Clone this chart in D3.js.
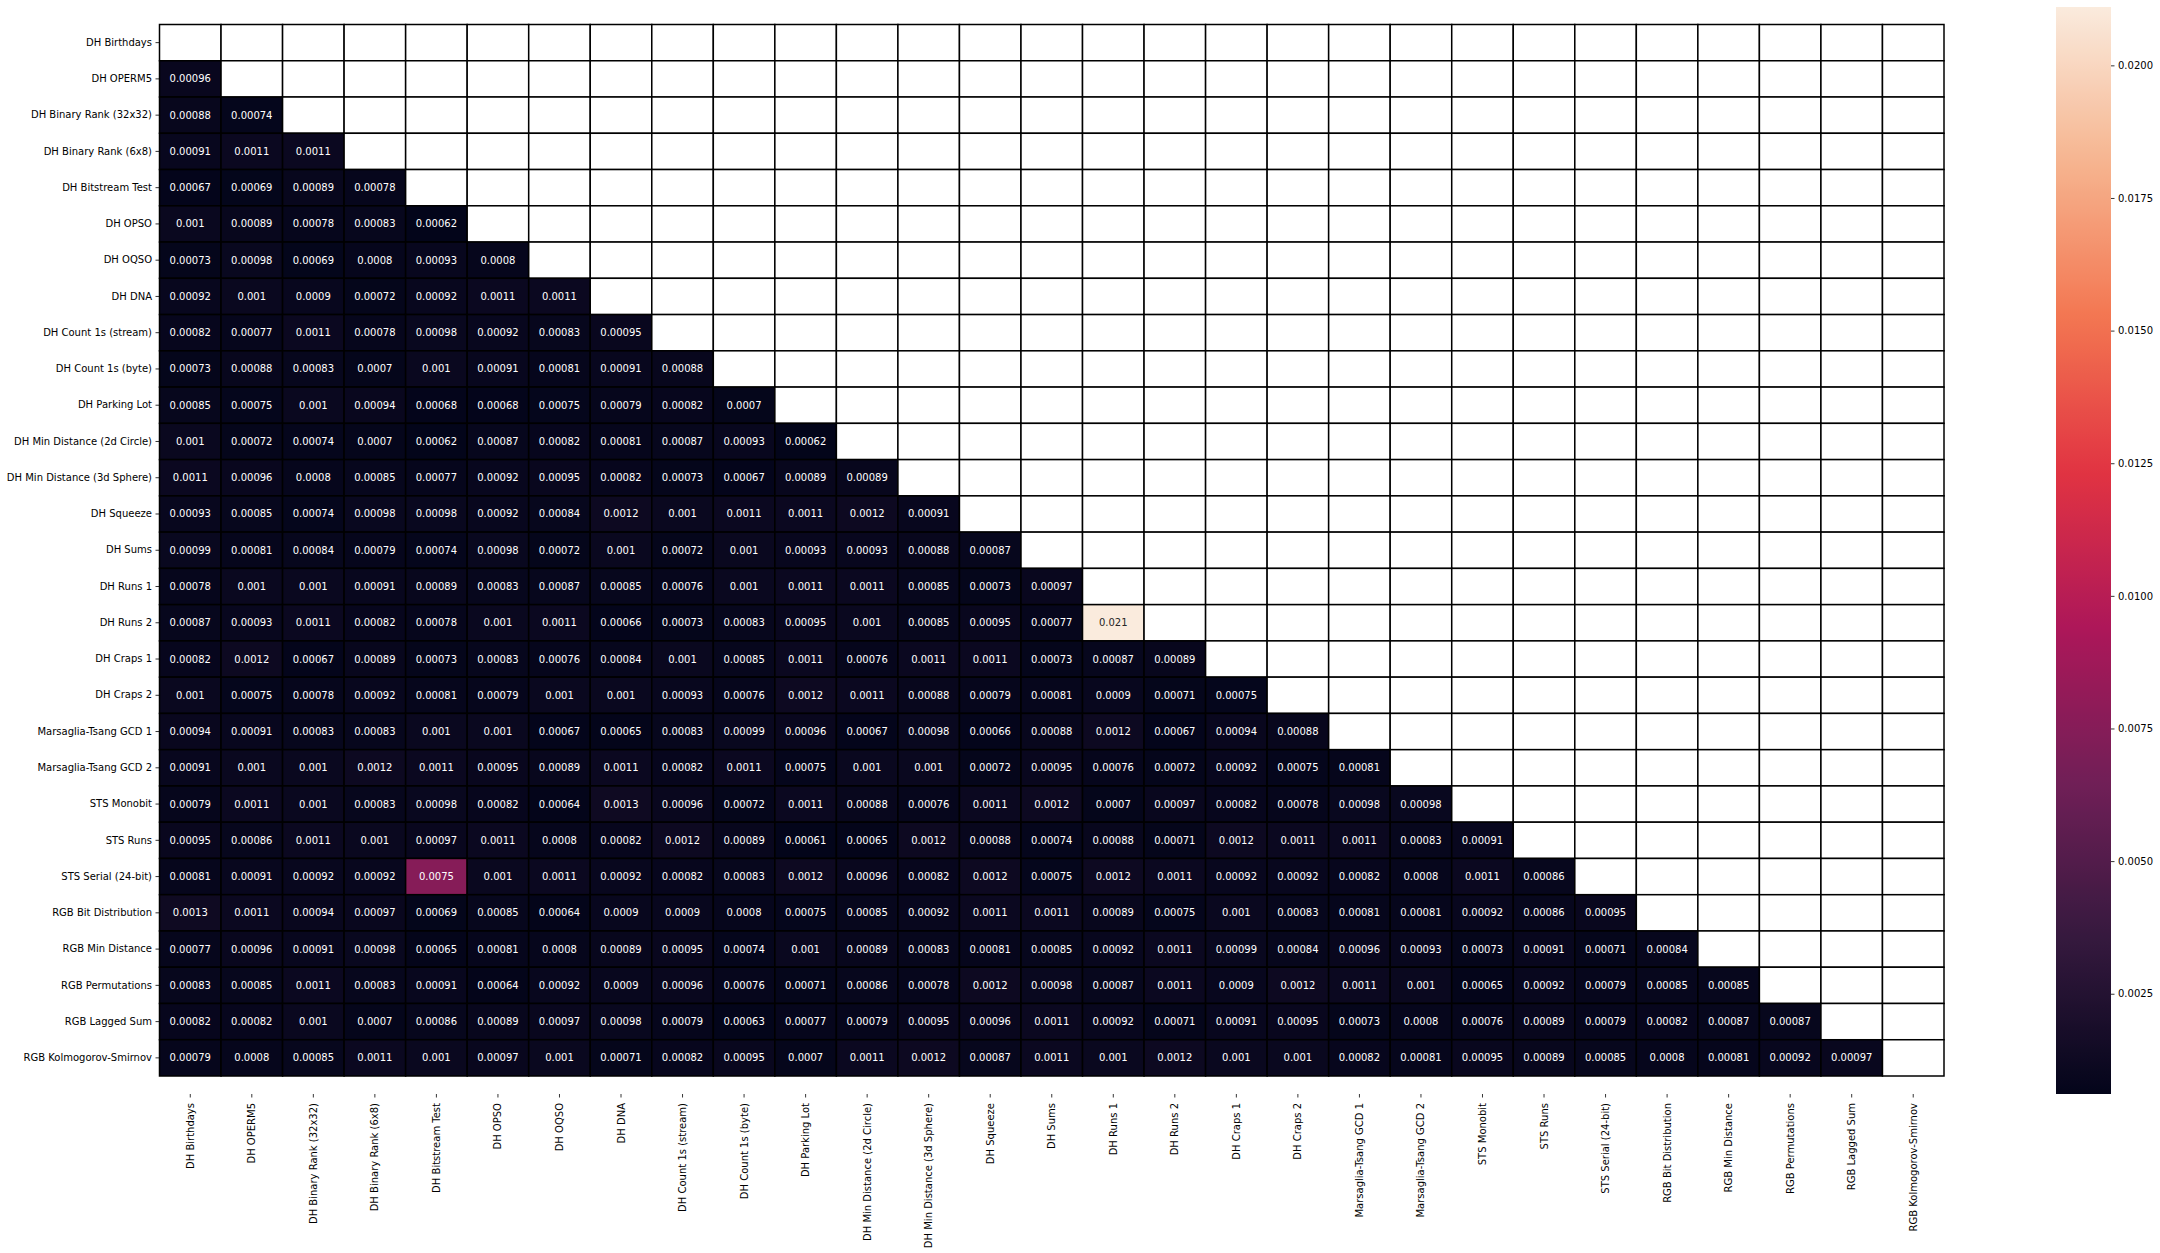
<!DOCTYPE html>
<html>
<head>
<meta charset="utf-8">
<script src="https://cdn.jsdelivr.net/npm/d3@7"></script>
<style>
  html, body { margin: 0; padding: 0; background: #ffffff; }
  svg { display: block; }
  text { font-family: "DejaVu Sans", sans-serif; }
</style>
</head>
<body>
<svg id="chart" width="2160" height="1253"></svg>
<script>
const categories = [
  "DH Birthdays", "DH OPERM5", "DH Binary Rank (32x32)", "DH Binary Rank (6x8)",
  "DH Bitstream Test", "DH OPSO", "DH OQSO", "DH DNA", "DH Count 1s (stream)",
  "DH Count 1s (byte)", "DH Parking Lot", "DH Min Distance (2d Circle)",
  "DH Min Distance (3d Sphere)", "DH Squeeze", "DH Sums", "DH Runs 1", "DH Runs 2",
  "DH Craps 1", "DH Craps 2", "Marsaglia-Tsang GCD 1", "Marsaglia-Tsang GCD 2",
  "STS Monobit", "STS Runs", "STS Serial (24-bit)", "RGB Bit Distribution",
  "RGB Min Distance", "RGB Permutations", "RGB Lagged Sum", "RGB Kolmogorov-Smirnov"
];

// lower-triangular values: row i holds columns 0..i-1
const corrRows = [
  [],
  [0.00096],
  [0.00088, 0.00074],
  [0.00091, 0.0011, 0.0011],
  [0.00067, 0.00069, 0.00089, 0.00078],
  [0.001, 0.00089, 0.00078, 0.00083, 0.00062],
  [0.00073, 0.00098, 0.00069, 0.0008, 0.00093, 0.0008],
  [0.00092, 0.001, 0.0009, 0.00072, 0.00092, 0.0011, 0.0011],
  [0.00082, 0.00077, 0.0011, 0.00078, 0.00098, 0.00092, 0.00083, 0.00095],
  [0.00073, 0.00088, 0.00083, 0.0007, 0.001, 0.00091, 0.00081, 0.00091, 0.00088],
  [0.00085, 0.00075, 0.001, 0.00094, 0.00068, 0.00068, 0.00075, 0.00079, 0.00082, 0.0007],
  [0.001, 0.00072, 0.00074, 0.0007, 0.00062, 0.00087, 0.00082, 0.00081, 0.00087, 0.00093, 0.00062],
  [0.0011, 0.00096, 0.0008, 0.00085, 0.00077, 0.00092, 0.00095, 0.00082, 0.00073, 0.00067, 0.00089, 0.00089],
  [0.00093, 0.00085, 0.00074, 0.00098, 0.00098, 0.00092, 0.00084, 0.0012, 0.001, 0.0011, 0.0011, 0.0012, 0.00091],
  [0.00099, 0.00081, 0.00084, 0.00079, 0.00074, 0.00098, 0.00072, 0.001, 0.00072, 0.001, 0.00093, 0.00093, 0.00088, 0.00087],
  [0.00078, 0.001, 0.001, 0.00091, 0.00089, 0.00083, 0.00087, 0.00085, 0.00076, 0.001, 0.0011, 0.0011, 0.00085, 0.00073, 0.00097],
  [0.00087, 0.00093, 0.0011, 0.00082, 0.00078, 0.001, 0.0011, 0.00066, 0.00073, 0.00083, 0.00095, 0.001, 0.00085, 0.00095, 0.00077, 0.0211],
  [0.00082, 0.0012, 0.00067, 0.00089, 0.00073, 0.00083, 0.00076, 0.00084, 0.001, 0.00085, 0.0011, 0.00076, 0.0011, 0.0011, 0.00073, 0.00087, 0.00089],
  [0.001, 0.00075, 0.00078, 0.00092, 0.00081, 0.00079, 0.001, 0.001, 0.00093, 0.00076, 0.0012, 0.0011, 0.00088, 0.00079, 0.00081, 0.0009, 0.00071, 0.00075],
  [0.00094, 0.00091, 0.00083, 0.00083, 0.001, 0.001, 0.00067, 0.00065, 0.00083, 0.00099, 0.00096, 0.00067, 0.00098, 0.00066, 0.00088, 0.0012, 0.00067, 0.00094, 0.00088],
  [0.00091, 0.001, 0.001, 0.0012, 0.0011, 0.00095, 0.00089, 0.0011, 0.00082, 0.0011, 0.00075, 0.001, 0.001, 0.00072, 0.00095, 0.00076, 0.00072, 0.00092, 0.00075, 0.00081],
  [0.00079, 0.0011, 0.001, 0.00083, 0.00098, 0.00082, 0.00064, 0.0013, 0.00096, 0.00072, 0.0011, 0.00088, 0.00076, 0.0011, 0.0012, 0.0007, 0.00097, 0.00082, 0.00078, 0.00098, 0.00098],
  [0.00095, 0.00086, 0.0011, 0.001, 0.00097, 0.0011, 0.0008, 0.00082, 0.0012, 0.00089, 0.00061, 0.00065, 0.0012, 0.00088, 0.00074, 0.00088, 0.00071, 0.0012, 0.0011, 0.0011, 0.00083, 0.00091],
  [0.00081, 0.00091, 0.00092, 0.00092, 0.0075, 0.001, 0.0011, 0.00092, 0.00082, 0.00083, 0.0012, 0.00096, 0.00082, 0.0012, 0.00075, 0.0012, 0.0011, 0.00092, 0.00092, 0.00082, 0.0008, 0.0011, 0.00086],
  [0.0013, 0.0011, 0.00094, 0.00097, 0.00069, 0.00085, 0.00064, 0.0009, 0.0009, 0.0008, 0.00075, 0.00085, 0.00092, 0.0011, 0.0011, 0.00089, 0.00075, 0.001, 0.00083, 0.00081, 0.00081, 0.00092, 0.00086, 0.00095],
  [0.00077, 0.00096, 0.00091, 0.00098, 0.00065, 0.00081, 0.0008, 0.00089, 0.00095, 0.00074, 0.001, 0.00089, 0.00083, 0.00081, 0.00085, 0.00092, 0.0011, 0.00099, 0.00084, 0.00096, 0.00093, 0.00073, 0.00091, 0.00071, 0.00084],
  [0.00083, 0.00085, 0.0011, 0.00083, 0.00091, 0.00064, 0.00092, 0.0009, 0.00096, 0.00076, 0.00071, 0.00086, 0.00078, 0.0012, 0.00098, 0.00087, 0.0011, 0.0009, 0.0012, 0.0011, 0.001, 0.00065, 0.00092, 0.00079, 0.00085, 0.00085],
  [0.00082, 0.00082, 0.001, 0.0007, 0.00086, 0.00089, 0.00097, 0.00098, 0.00079, 0.00063, 0.00077, 0.00079, 0.00095, 0.00096, 0.0011, 0.00092, 0.00071, 0.00091, 0.00095, 0.00073, 0.0008, 0.00076, 0.00089, 0.00079, 0.00082, 0.00087, 0.00087],
  [0.00079, 0.0008, 0.00085, 0.0011, 0.001, 0.00097, 0.001, 0.00071, 0.00082, 0.00095, 0.0007, 0.0011, 0.0012, 0.00087, 0.0011, 0.001, 0.0012, 0.001, 0.001, 0.00082, 0.00081, 0.00095, 0.00089, 0.00085, 0.0008, 0.00081, 0.00092, 0.00097]
];

const colorbarTicks = [0.0025, 0.0050, 0.0075, 0.0100, 0.0125, 0.0150, 0.0175, 0.0200];

// seaborn "rocket" colormap anchor colours (evenly spaced)
const rocketStops = ["#03051a", "#35193e", "#701f57", "#ad1759", "#e13342", "#f37651", "#f6b48f", "#faebdd"];

const svg = d3.select("#chart");
const rocket = d3.piecewise(d3.interpolateRgb, rocketStops);

const allVals = corrRows.flat();
const [vmin, vmax] = d3.extent(allVals);
const color = d3.scaleSequential(rocket).domain([vmin, vmax]);

const x = d3.scaleBand().domain(categories).range([159.5, 1944]).padding(0);
const y = d3.scaleBand().domain(categories).range([24.5, 1076]).padding(0);

const cells = [];
categories.forEach((rowName, i) => {
  categories.forEach((colName, j) => {
    cells.push({ row: rowName, col: colName, value: j < i ? corrRows[i][j] : null });
  });
});

const g = svg.append("g");
g.selectAll("rect.cell")
  .data(cells)
  .join("rect")
  .attr("class", "cell")
  .attr("x", d => x(d.col))
  .attr("y", d => y(d.row))
  .attr("width", x.bandwidth())
  .attr("height", y.bandwidth())
  .attr("fill", d => d.value === null ? "#ffffff" : color(d.value))
  .attr("stroke", "#000000")
  .attr("stroke-width", 1.5);

const fmt = d3.format(".2~g");
function textColor(v) {
  const c = d3.rgb(color(v));
  const lin = u => { u /= 255; return u <= 0.03928 ? u / 12.92 : Math.pow((u + 0.055) / 1.055, 2.4); };
  const lum = 0.2126 * lin(c.r) + 0.7152 * lin(c.g) + 0.0722 * lin(c.b);
  return lum > 0.408 ? "#262626" : "#ffffff";
}

g.selectAll("text.annot")
  .data(cells.filter(d => d.value !== null))
  .join("text")
  .attr("class", "annot")
  .attr("x", d => x(d.col) + x.bandwidth() / 2)
  .attr("y", d => y(d.row) + y.bandwidth() / 2)
  .attr("text-anchor", "middle")
  .attr("dominant-baseline", "central")
  .attr("font-size", 10)
  .attr("fill", d => textColor(d.value))
  .text(d => fmt(d.value));

// y axis
const yAxis = svg.append("g")
  .attr("transform", "translate(159,0)")
  .call(d3.axisLeft(y).tickSize(3.5).tickPadding(3.5));
yAxis.select(".domain").remove();
yAxis.selectAll(".tick line").attr("stroke", "#000").attr("stroke-width", 0.8);
yAxis.selectAll(".tick text").attr("font-size", 10).attr("fill", "#000").attr("font-family", "DejaVu Sans");

// x axis
const xAxis = svg.append("g")
  .attr("transform", "translate(0,1094)")
  .call(d3.axisBottom(x).tickSize(3.5).tickPadding(3.5));
xAxis.select(".domain").remove();
xAxis.selectAll(".tick line").attr("stroke", "#000").attr("stroke-width", 0.8);
xAxis.selectAll(".tick text")
  .attr("font-size", 10).attr("fill", "#000").attr("font-family", "DejaVu Sans")
  .attr("transform", "rotate(-90)")
  .attr("text-anchor", "end")
  .attr("x", -9)
  .attr("y", 0)
  .attr("dy", "0.35em");

// colorbar
const cbX = 2056, cbW = 55, cbTop = 7, cbBottom = 1094;
const cbScale = d3.scaleLinear().domain([vmin, vmax]).range([cbBottom, cbTop]);
const defs = svg.append("defs");
const grad = defs.append("linearGradient")
  .attr("id", "cbgrad").attr("x1", 0).attr("y1", 1).attr("x2", 0).attr("y2", 0);
d3.range(0, 101).forEach(k => {
  grad.append("stop").attr("offset", k / 100).attr("stop-color", rocket(k / 100));
});
svg.append("rect")
  .attr("x", cbX).attr("y", cbTop).attr("width", cbW).attr("height", cbBottom - cbTop)
  .attr("fill", "url(#cbgrad)");
const cbAxis = svg.append("g")
  .attr("transform", `translate(${cbX + cbW},0)`)
  .call(d3.axisRight(cbScale).tickValues(colorbarTicks).tickFormat(d3.format(".4f")).tickSize(3.5).tickPadding(3.5));
cbAxis.select(".domain").remove();
cbAxis.selectAll(".tick line").attr("stroke", "#000").attr("stroke-width", 0.8);
cbAxis.selectAll(".tick text").attr("font-size", 10).attr("fill", "#000").attr("font-family", "DejaVu Sans");
</script>
</body>
</html>
